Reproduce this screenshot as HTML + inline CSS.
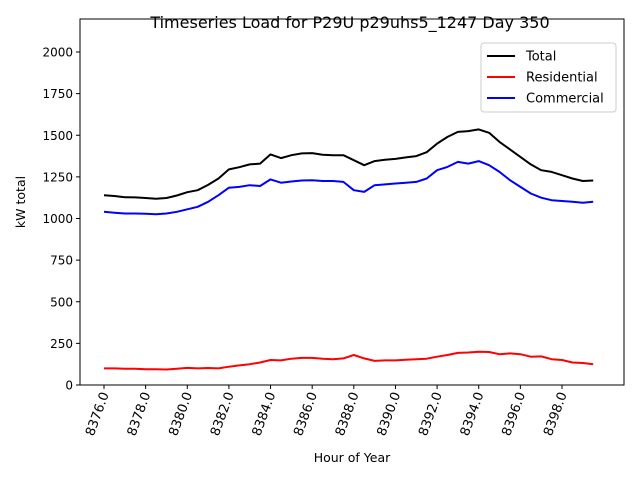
<!DOCTYPE html>
<html><head><meta charset="utf-8"><style>
body{margin:0;background:#fff;}
svg{font-family:"DejaVu Sans","Liberation Sans",sans-serif;}
</style></head><body>
<svg id="chart" width="640" height="480"></svg>
<script>
const hours=[];for(let i=0;i<48;i++)hours.push(8376+i*0.5);
const totalVals=[1140,1135,1128,1127,1123,1119,1123,1138,1158,1170,1202,1240,1295,1308,1325,1330,1385,1363,1380,1391,1393,1383,1380,1380,1350,1320,1345,1353,1358,1367,1375,1398,1450,1490,1520,1525,1535,1515,1460,1415,1370,1325,1290,1280,1260,1240,1225,1228];
const residentialVals=[100,100,98,97,95,94,93,98,103,100,102,100,110,118,125,135,150,148,158,163,163,158,155,160,180,160,145,148,148,152,155,158,170,180,193,195,200,198,185,190,185,170,172,155,150,135,132,125];
const commercialVals=[1040,1035,1030,1030,1028,1025,1030,1040,1055,1070,1100,1140,1185,1190,1200,1195,1235,1215,1222,1228,1230,1225,1225,1220,1170,1160,1200,1205,1210,1215,1220,1240,1290,1310,1340,1330,1345,1320,1280,1230,1190,1150,1125,1110,1105,1100,1095,1100];
const yTicks=[0,250,500,750,1000,1250,1500,1750,2000];
const xTicks=[8376,8378,8380,8382,8384,8386,8388,8390,8392,8394,8396,8398];
const L=80,R=624,T=19,B=385;
const xs=h=>104+(h-8376)*(458/22);
const ys=v=>385-v*(333/2000);
const NS="http://www.w3.org/2000/svg";
const svg=document.getElementById('chart');
function mk(t,a,txt){const e=document.createElementNS(NS,t);for(const k in a)e.setAttribute(k,a[k]);if(txt!==undefined)e.textContent=txt;svg.appendChild(e);return e;}
let e;
e=mk('text',{x:350,y:28,'text-anchor':'middle','font-size':16},'Timeseries Load for P29U p29uhs5_1247  Day 350');


yTicks.forEach(v=>{const y=ys(v);
e=mk('line',{x1:L-4,x2:L,y1:y,y2:y,stroke:'#000'});


e=mk('text',{x:L-7,y:y+4.5,'text-anchor':'end','font-size':12},v);

});
xTicks.forEach(h=>{const x=xs(h);
e=mk('line',{x1:x,x2:x,y1:B,y2:B+4,stroke:'#000'});


e=mk('text',{x:0,y:0,'text-anchor':'end','font-size':13,transform:`translate(${x+5},${B+9}) rotate(-70)`},h.toFixed(1));

});
e=mk('text',{x:352,y:462,'text-anchor':'middle','font-size':12.5},'Hour of Year');


e=mk('text',{x:0,y:0,'text-anchor':'middle','font-size':12.5,transform:`translate(25,${(T+B)/2}) rotate(-90)`},'kW total');


function line(vals,col,name){const d=vals.map((v,i)=>(i?'L':'M')+xs(hours[i]).toFixed(1)+','+ys(v).toFixed(1)).join('');
const p=mk('path',{d:d,fill:'none',stroke:col,'stroke-width':2,'stroke-linejoin':'round'});

}
line(totalVals,'#000','total-line');
line(residentialVals,'#f00','residential-line');
line(commercialVals,'#00f','commercial-line');
e=mk('rect',{x:L,y:T,width:R-L,height:B-T,fill:'none',stroke:'#000','stroke-width':1});


e=mk('rect',{x:481,y:43,width:135,height:69,fill:'#fff',stroke:'#ccc',rx:3});


[['Total','#000'],['Residential','#f00'],['Commercial','#00f']].forEach((s,i)=>{const y=56+i*21;
e=mk('line',{x1:487,x2:515,y1:y,y2:y,stroke:s[1],'stroke-width':2});


e=mk('text',{x:526,y:y+4.5,'font-size':13},s[0]);

});
</script>
</body></html>
